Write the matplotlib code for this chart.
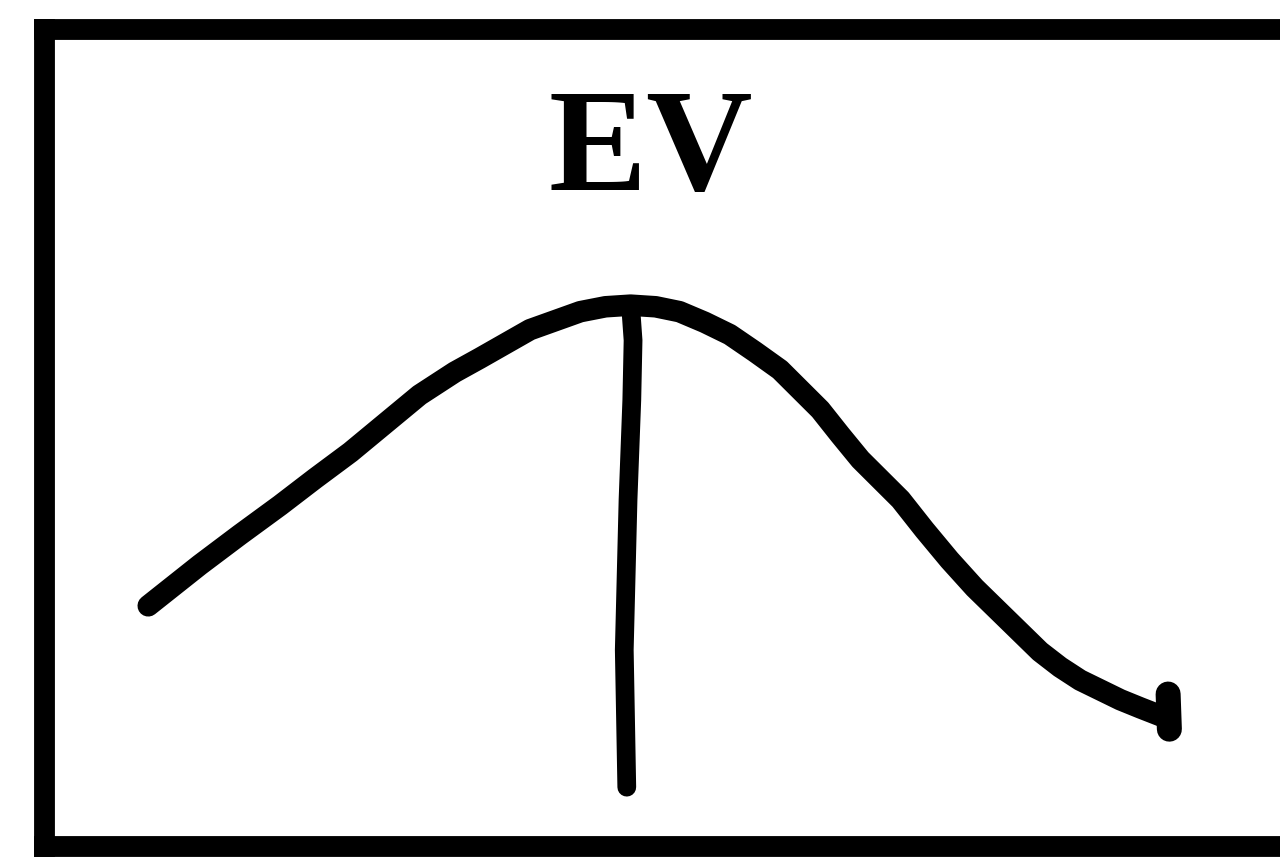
import matplotlib
matplotlib.use('Agg')
import matplotlib.pyplot as plt

# curve (arbitrary 0-100 units inside the box)
curve_x = [8.3, 12.4, 15.6, 18.8, 21.6, 24.4, 29.9, 32.7, 34.7, 38.7, 42.7,
           44.7, 46.7, 48.7, 50.6, 52.6, 54.6, 56.6, 58.6, 61.8, 63.4, 65.0,
           68.2, 70.1, 72.1, 74.1, 76.1, 77.7, 79.3, 80.9, 82.5, 84.1, 85.7,
           87.3, 89.3]
curve_y = [29.4, 34.4, 38.1, 41.7, 45.0, 48.2, 55.2, 58.0, 59.7, 63.2, 65.4,
           66.0, 66.2, 66.0, 65.4, 64.1, 62.6, 60.5, 58.3, 53.4, 50.3, 47.3,
           42.4, 38.7, 35.0, 31.6, 28.6, 26.2, 23.8, 21.9, 20.3, 19.1, 17.9,
           16.9, 15.7]

# little blob at the end of the curve
hook_x = [89.5, 89.6]
hook_y = [18.6, 14.3]

# vertical line through the peak
vline_x = [46.7, 46.9, 46.8, 46.5, 46.2, 46.4]
vline_y = [66.2, 61.9, 54.6, 42.4, 24.0, 7.2]

title = "EV"

fig = plt.figure(figsize=(12.8, 8.6), dpi=100)
ax = fig.add_axes([44 / 1280, 14 / 860, 1256 / 1280, 817 / 860])
ax.set_xlim(0, 100)
ax.set_ylim(0, 100)

ax.plot(curve_x, curve_y, color='black', lw=15.5, solid_capstyle='round', solid_joinstyle='round')
ax.plot(hook_x, hook_y, color='black', lw=18, solid_capstyle='round')
ax.plot(vline_x, vline_y, color='black', lw=13.5, solid_capstyle='round', solid_joinstyle='round')

ax.text(48.3, 80.3, title, ha='center', va='baseline', fontsize=106, fontweight='bold',
        family=['Liberation Serif', 'DejaVu Serif'])

ax.set_xticks([])
ax.set_yticks([])
for side in ['left', 'top', 'bottom']:
    ax.spines[side].set_linewidth(15)
    ax.spines[side].set_color('black')
ax.spines['right'].set_visible(False)

fig.savefig('out.png', dpi=100)
